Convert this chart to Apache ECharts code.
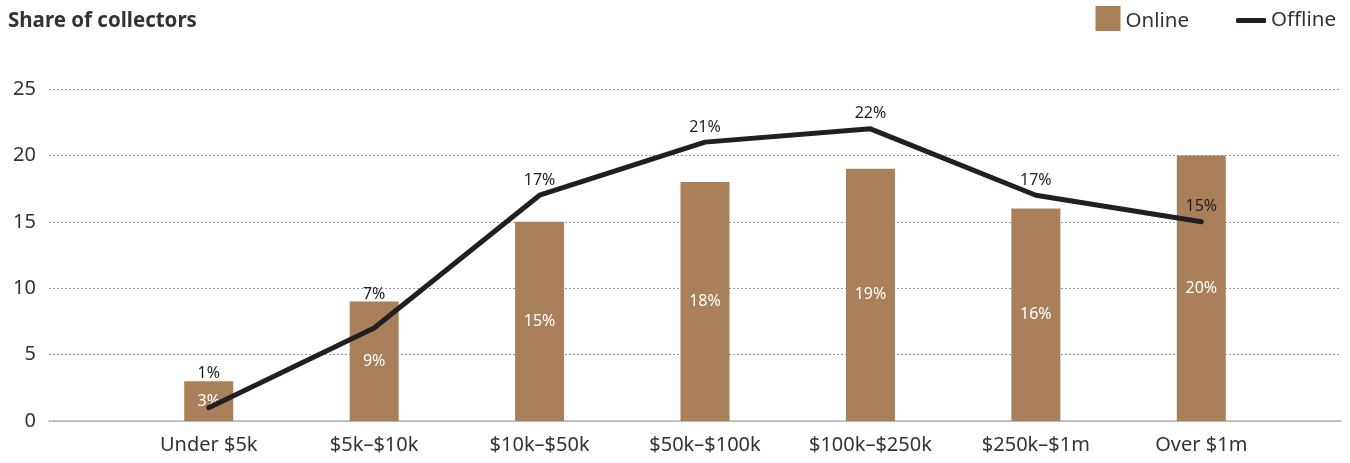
<!DOCTYPE html>
<html>
<head>
<meta charset="utf-8">
<script src="https://cdn.jsdelivr.net/npm/echarts@6/dist/echarts.min.js"></script>
<style>
  html, body { margin: 0; padding: 0; background: #fff; }
  #chart { width: 1350px; height: 463px; }
</style>
</head>
<body>
<div id="chart"></div>
<script>
// Spending bands and share of collectors buying online / offline (%)
const categories = ['Under $5k', '$5k\u2013$10k', '$10k\u2013$50k', '$50k\u2013$100k', '$100k\u2013$250k', '$250k\u2013$1m', 'Over $1m'];
const onlineShare = [3, 9, 15, 18, 19, 16, 20];
const offlineShare = [1, 7, 17, 21, 22, 17, 15];
const yTicks = [0, 5, 10, 15, 20, 25];

// Label lift for line labels that sit above a taller bar
const offlineLabelLift = [26, 26, 7, 7, 7, 7, 7];

const FONT = '"Noto Sans", "Open Sans", sans-serif';
const BROWN = '#a98059';
const INK = '#231f20';
const TEXT = '#333333';

const chart = echarts.init(document.getElementById('chart'), null, { renderer: 'canvas' });

const yMin = yTicks[0];
const yMax = yTicks[yTicks.length - 1];
const yStep = yTicks[1] - yTicks[0];

chart.setOption({
  animation: false,
  textStyle: { fontFamily: FONT },
  title: {
    text: 'Share of collectors',
    left: 3,
    top: 6,
    textStyle: { fontFamily: FONT, fontWeight: 'bold', fontSize: 20.5, color: TEXT }
  },
  legend: [
    {
      data: ['Online'],
      right: 156,
      top: 1,
      icon: 'rect',
      itemWidth: 25,
      itemHeight: 25,
      itemGap: 10,
      formatter: '{t|{name}}',
      textStyle: {
        fontFamily: FONT, fontSize: 20.5, color: TEXT,
        rich: { t: { fontFamily: FONT, fontSize: 20.5, color: TEXT, padding: [5, 0, 0, 0] } }
      }
    },
    {
      data: ['Offline'],
      right: 9,
      top: 5,
      icon: 'roundRect',
      itemWidth: 30,
      itemHeight: 5,
      itemGap: 10,
      textStyle: { fontFamily: FONT, fontSize: 20.5, color: TEXT }
    }
  ],
  grid: [
    // full-width frame carrying the value scale and dotted guides
    { left: 49, right: 9, top: 89, bottom: 42 },
    // category area holding the bars and line
    { left: 126, right: 66, top: 89, bottom: 42 }
  ],
  xAxis: [
    {
      gridIndex: 0,
      type: 'value',
      min: 0,
      max: 1,
      axisLine: { show: true, onZero: false, lineStyle: { color: '#b3b3b3', width: 1.5 } },
      axisTick: { show: false },
      axisLabel: { show: false },
      splitLine: { show: false }
    },
    {
      gridIndex: 1,
      type: 'category',
      data: categories,
      axisLine: { show: false },
      axisTick: { show: false },
      axisLabel: { fontFamily: FONT, fontSize: 20, color: TEXT, margin: 14 }
    }
  ],
  yAxis: [
    {
      gridIndex: 0,
      type: 'value',
      min: yMin,
      max: yMax,
      interval: yStep,
      axisLine: { show: false },
      axisTick: { show: false },
      axisLabel: { fontFamily: FONT, fontSize: 20, color: TEXT, margin: 13 },
      splitLine: { lineStyle: { color: '#9a9a9a', type: [2, 2], width: 1 } }
    },
    {
      gridIndex: 1,
      type: 'value',
      min: yMin,
      max: yMax,
      interval: yStep,
      show: false,
      splitLine: { show: false }
    }
  ],
  series: [
    {
      name: 'Online',
      type: 'bar',
      xAxisIndex: 1,
      yAxisIndex: 1,
      data: onlineShare,
      barWidth: 49,
      itemStyle: { color: BROWN },
      label: {
        show: true,
        position: 'inside',
        formatter: '{c}%',
        color: '#ffffff',
        fontFamily: FONT,
        fontSize: 16
      },
      z: 2
    },
    {
      name: 'Offline',
      type: 'line',
      xAxisIndex: 1,
      yAxisIndex: 1,
      data: offlineShare.map((v, i) => ({
        value: v,
        label: { distance: offlineLabelLift[i] }
      })),
      symbol: 'circle',
      symbolSize: 0.1,
      showSymbol: true,
      lineStyle: { color: INK, width: 5, cap: 'round', join: 'round' },
      itemStyle: { color: INK },
      label: {
        show: true,
        position: 'top',
        formatter: '{c}%',
        color: INK,
        fontFamily: FONT,
        fontSize: 16
      },
      z: 3
    }
  ]
});
</script>
</body>
</html>
